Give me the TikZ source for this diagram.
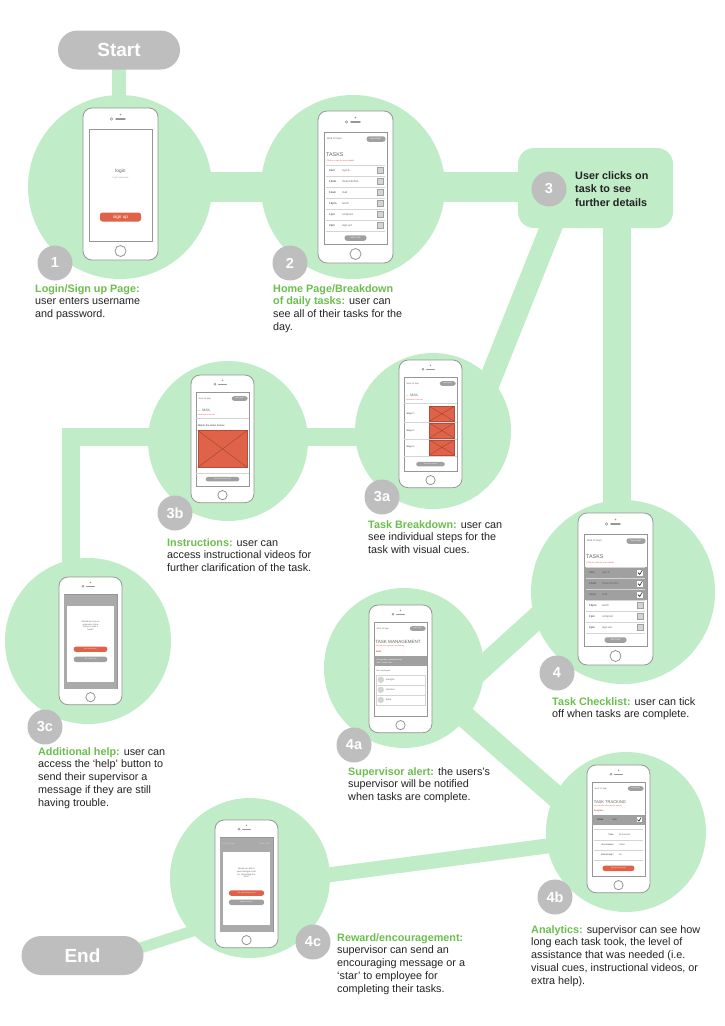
\documentclass[tikz,border=0pt]{standalone}
\usepackage{fontspec}
\setmainfont{Liberation Sans}
\usetikzlibrary{backgrounds}
\definecolor{mint}{RGB}{192,236,199}
\definecolor{badgegray}{RGB}{190,190,190}
\definecolor{keygreen}{RGB}{108,190,78}
\definecolor{ink}{RGB}{35,35,35}
\definecolor{shellgray}{RGB}{150,150,150}
\definecolor{uitext}{RGB}{100,100,100}
\definecolor{uidark}{RGB}{160,160,160}
\definecolor{uilight}{RGB}{212,212,212}
\definecolor{tomato}{RGB}{224,98,72}
\definecolor{alertred}{RGB}{222,80,60}
\newcommand{\keyterm}[1]{\textcolor{keygreen}{\bfseries #1}}

% phone outline, drawn in the frame of a 75 x 152 handset
\newcommand{\handset}{%
  \draw[shellgray,line width=0.8pt,fill=white,rounded corners=9pt] (0,0) rectangle (75,152);
  \draw[shellgray,line width=0.6pt] (6,21) rectangle (69,133);
  \draw[shellgray,line width=0.8pt] (37.5,143) circle[radius=5.5];
  \fill[shellgray] (37.5,6.5) circle[radius=0.9];
  \draw[shellgray,line width=1.4pt,line cap=round] (33,11) -- (42,11);
  \draw[shellgray,line width=0.5pt] (28.5,11) circle[radius=1.2];
}
% date line and help button at the top of a screen
\newcommand{\uiheader}[1]{%
  \node[anchor=west,inner sep=0pt,text=uitext,font=\fontsize{2.5}{2.5}\selectfont] (#1date) at (9,28) {Wed 12 Sept};
  \node[uipill,fill=uidark,minimum width=19pt,minimum height=5.5pt] (#1help) at (58,28) {Need Help?};
}
% daily task list; #2 = number of rows already ticked off
\newcommand{\taskscreen}[2]{%
  \uiheader{#1}
  \node[anchor=west,inner sep=0pt,text=uitext,font=\fontsize{5.4}{5.4}\selectfont] (#1title) at (8,44) {TASKS};
  \node[anchor=west,inner sep=0pt,text=alertred,font=\fontsize{2}{2}\selectfont] (#1note) at (8.5,49.5) {Click on a task for more details};
  \ifnum#2>0 \fill[uidark] (6,54) rectangle (69,{54+11*#2}); \fi
  \draw[uilight,line width=0.4pt] (8,54) -- (67,54);
  \foreach \tm/\tk [count=\i from 0] in {9am/sign in,10am/clean kitchen,11am/mail,12pm/lunch,1pm/compost,2pm/sign out}{
    \pgfmathsetmacro{\yy}{54+11*\i}
    \draw[uilight,line width=0.4pt] (8,\yy+11) -- (67,\yy+11);
    \node[anchor=west,inner sep=0pt,text=uitext,font=\fontsize{2.8}{2.8}\selectfont\bfseries] (#1t\i) at (11,\yy+5.5) {\tm};
    \node[anchor=west,inner sep=0pt,text=uitext,font=\fontsize{2.8}{2.8}\selectfont] (#1k\i) at (24,\yy+5.5) {\tk};
    \ifnum\i<#2
      \fill[white] (59,\yy+2.5) rectangle (65,\yy+8.5);
      \draw[ink,line width=0.6pt] (60,\yy+5.6) -- (61.8,\yy+7.4) -- (64.4,\yy+3);
    \else
      \draw[uidark,fill=uilight,line width=0.3pt] (59,\yy+2.5) rectangle (65,\yy+8.5);
    \fi
  }
  \node[uipill,fill=uidark,minimum width=22pt,minimum height=5.5pt] (#1add) at (37.5,127) {ADD TASK};
}

\begin{document}
\begin{tikzpicture}[x=1pt,y=-1pt,
  band/.style={draw=mint,line cap=butt,line join=miter},
  hub/.style={circle,fill=mint,inner sep=0pt,minimum size=#1},
  badge/.style={circle,fill=badgegray,inner sep=0pt,minimum size=35pt,text=white,font=\fontsize{14.5}{14.5}\selectfont\bfseries},
  terminal/.style={rectangle,rounded corners=19.5pt,fill=badgegray,text=white,minimum width=122pt,minimum height=39pt,inner sep=0pt,font=\fontsize{19}{19}\selectfont\bfseries},
  blurb/.style={anchor=north west,inner sep=0pt,align=left,text=ink,font=\fontsize{10.8}{12.8}\selectfont},
  uipill/.style={rectangle,rounded corners=2.5pt,inner sep=0pt,text=white,font=\fontsize{2}{2}\selectfont},
  smallphone/.style={scale=0.84,transform shape}]

\useasboundingbox (0,0) rectangle (724,1026);

% stage circles
\node[hub=184pt] (c1) at (120,187) {};
\node[hub=184pt] (c2) at (353,187) {};
\node[hub=156pt] (c3a) at (433,431) {};
\node[hub=160pt] (c3b) at (228,441) {};
\node[hub=166pt] (c3c) at (88,641) {};
\node[hub=184pt] (c4) at (623,592) {};
\node[hub=160pt] (c4a) at (404,668) {};
\node[hub=160pt] (c4b) at (626,832) {};
\node[hub=160pt] (c4c) at (250,878) {};
\node[fill=mint,rounded corners=16pt,minimum width=155pt,minimum height=80pt,inner sep=0pt] (box3) at (595.5,188) {};

% terminals
\node[terminal] (start) at (119,50) {Start};
\node[terminal] (finish) at (82.5,955.5) {End};

% band end points that are not stage centres
\coordinate (d1) at (562,200);
\coordinate (d2) at (470,430);
\coordinate (v1) at (617,200);
\coordinate (elbow) at (71,437);
\coordinate (e1) at (560,597);
\coordinate (e2) at (440,706);
\coordinate (f1) at (440,695);
\coordinate (f2) at (600,835);
\coordinate (g1) at (600,839);
\coordinate (g2) at (290,880);
\coordinate (h1) at (125,953);
\coordinate (h2) at (205,927);

% connecting bands, behind everything else
\begin{pgfonlayer}{background}
\fill[white] (0,0) rectangle (724,1026);
\draw[band,line width=14pt] (start.center) -- (start.center |- c1.center);
\draw[band,line width=30pt] (c1.center) -- (c2.center) -- (c2.center -| box3.center);
\draw[band,line width=22pt] (d1) -- (d2);
\draw[band,line width=28pt] (v1) -- (v1 |- c4.center);
\draw[band,line width=18pt] (elbow -| c3a.center) -- (elbow) -- (elbow |- c3c.center);
\draw[band,line width=22pt] (e1) -- (e2);
\draw[band,line width=22pt] (f1) -- (f2);
\draw[band,line width=15pt] (g1) -- (g2);
\draw[band,line width=11pt] (h1) -- (h2);
\end{pgfonlayer}

% 1: login screen
\begin{scope}[shift={(83,108)}]
  \handset
  \node[inner sep=0pt,text=uitext,font=\fontsize{4.8}{4.8}\selectfont] (p1login) at (37.5,63) {login};
  \node[inner sep=0pt,text=uidark,font=\fontsize{2.2}{2.2}\selectfont] (p1forgot) at (37.5,70) {forgot password};
  \node[uipill,fill=tomato,minimum width=41pt,minimum height=9pt,font=\fontsize{4.6}{4.6}\selectfont] (p1sign) at (37.5,109) {sign up};
\end{scope}

% 2: daily tasks
\begin{scope}[shift={(318,111)}]
  \handset
  \taskscreen{p2}{0}
\end{scope}

% 4: task checklist
\begin{scope}[shift={(578,513)}]
  \handset
  \taskscreen{p4}{3}
\end{scope}

% 3a: task breakdown
\begin{scope}[shift={(399,360)},smallphone]
  \handset
  \uiheader{q3a}
  \node[anchor=west,inner sep=0pt,text=uitext,font=\fontsize{4.2}{4.2}\selectfont] (q3amail) at (8,42) {← MAIL};
  \node[anchor=west,inner sep=0pt,text=alertred,font=\fontsize{2}{2}\selectfont] (q3asub) at (8.5,47) {Breakdown of the task};
  \draw[uilight,line width=0.4pt] (6,52) -- (69,52);
  \foreach \s [count=\i from 0] in {1,2,3}{
    \pgfmathsetmacro{\yy}{54+20*\i}
    \node[anchor=west,inner sep=0pt,text=uitext,font=\fontsize{2.8}{2.8}\selectfont\bfseries] (q3as\s) at (9,\yy+10) {Step \s:};
    \draw[tomato!80!black,line width=0.3pt,fill=tomato] (36,\yy+1) rectangle (66,\yy+19);
    \draw[tomato!65!black,line width=0.3pt] (36,\yy+1) -- (66,\yy+19) (36,\yy+19) -- (66,\yy+1);
    \draw[uilight,line width=0.4pt] (6,\yy+20) -- (69,\yy+20);
  }
  \node[uipill,fill=uidark,minimum width=34pt,minimum height=5.5pt] (q3ago) at (37.5,124) {See how it's done};
\end{scope}

% 3b: instructional video
\begin{scope}[shift={(191,375)},smallphone]
  \handset
  \uiheader{q3b}
  \node[anchor=west,inner sep=0pt,text=uitext,font=\fontsize{4.2}{4.2}\selectfont] (q3bmail) at (8,42) {← MAIL};
  \node[anchor=west,inner sep=0pt,text=alertred,font=\fontsize{2}{2}\selectfont] (q3bsub) at (8.5,47) {Breakdown of the task};
  \draw[uilight,line width=0.4pt] (6,52) -- (69,52);
  \node[anchor=west,inner sep=0pt,text=uitext,font=\fontsize{2.9}{2.9}\selectfont\bfseries] (q3bwatch) at (8,60) {Watch the video below:};
  \draw[tomato!80!black,line width=0.3pt,fill=tomato] (8,66) rectangle (67,110);
  \draw[tomato!65!black,line width=0.3pt] (8,66) -- (67,110) (8,110) -- (67,66);
  \draw[uilight,line width=0.4pt] (6,117) -- (69,117);
  \node[uipill,fill=uidark,minimum width=40pt,minimum height=5.5pt] (q3bmore) at (37.5,124) {Need some more help};
\end{scope}

% 3c: help prompt
\begin{scope}[shift={(59,577)},smallphone]
  \handset
  \fill[uidark!90] (6,21) rectangle (69,133);
  \fill[white] (9,34) rectangle (66,125);
  \node[align=center,inner sep=0pt,text=uitext,font=\fontsize{2.6}{3.2}\selectfont] (q3cask) at (37.5,58) {Should we let your\\supervisor know\\that you need a\\hand?};
  \node[uipill,fill=tomato,minimum width=40pt,minimum height=6.5pt] (q3cno) at (37.5,86) {No, I can do this};
  \node[uipill,fill=uidark,minimum width=40pt,minimum height=6.5pt] (q3cyes) at (37.5,98) {Yes, I need help};
\end{scope}

% 4a: supervisor alert
\begin{scope}[shift={(369,605)},smallphone]
  \handset
  \uiheader{q4a}
  \node[anchor=west,inner sep=0pt,text=uitext,font=\fontsize{5.4}{5.4}\selectfont] (q4atitle) at (7.5,44) {TASK MANAGEMENT};
  \node[anchor=west,inner sep=0pt,text=alertred,font=\fontsize{2}{2}\selectfont] (q4asub) at (8,49) {See how your employees are tracking};
  \node[anchor=west,inner sep=0pt,text=alertred,font=\fontsize{2.8}{2.8}\selectfont\bfseries] (q4anew) at (8,56) {New!};
  \fill[uidark] (6,61) rectangle (69,73);
  \node[anchor=west,align=left,inner sep=0pt,text=white,font=\fontsize{2.3}{2.9}\selectfont] (q4amsg) at (9,67) {Georgia has completed a new\\task - check it out.};
  \node[anchor=west,inner sep=0pt,text=uitext,font=\fontsize{2.4}{2.4}\selectfont] (q4aemp) at (8,79) {Your employees};
  \draw[uilight,line width=0.4pt] (8,83) rectangle (67,119);
  \foreach \nm [count=\i from 0] in {Georgia,Harrison,Mark}{
    \pgfmathsetmacro{\yy}{83+12*\i}
    \draw[uilight,line width=0.4pt] (8,\yy) -- (67,\yy);
    \fill[uilight] (14,\yy+6) circle[radius=3.8];
    \node[anchor=west,inner sep=0pt,text=uitext,font=\fontsize{2.8}{2.8}\selectfont] (q4an\i) at (20,\yy+6) {\nm};
  }
\end{scope}

% 4b: analytics
\begin{scope}[shift={(587,765)},smallphone]
  \handset
  \uiheader{q4b}
  \node[anchor=west,inner sep=0pt,text=uitext,font=\fontsize{4.8}{4.8}\selectfont] (q4btitle) at (8,44) {TASK TRACKING};
  \node[anchor=west,inner sep=0pt,text=alertred,font=\fontsize{2}{2}\selectfont] (q4bsub) at (8,49) {See how your employees are tracking};
  \node[anchor=west,inner sep=0pt,text=alertred,font=\fontsize{2.6}{2.6}\selectfont\bfseries] (q4bana) at (8,55) {Analytics};
  \fill[uidark] (6,59) rectangle (69,71);
  \node[anchor=west,inner sep=0pt,text=uitext!60!black,font=\fontsize{2.8}{2.8}\selectfont\bfseries] (q4bhour) at (12,65) {11am};
  \node[anchor=west,inner sep=0pt,text=uitext!60!black,font=\fontsize{2.8}{2.8}\selectfont] (q4btask) at (30,65) {mail};
  \fill[white] (59,62) rectangle (65,68);
  \draw[ink,line width=0.6pt] (60,65.1) -- (61.8,66.9) -- (64.4,62.5);
  \foreach \lb/\vl [count=\i from 0] in {Time/45 minutes,Assistance/Video,Extra help?/No}{
    \pgfmathsetmacro{\yy}{77+12*\i}
    \draw[uilight,line width=0.4pt] (8,\yy) -- (67,\yy);
    \node[anchor=east,inner sep=0pt,text=uitext,font=\fontsize{2.7}{2.7}\selectfont\bfseries] (q4bl\i) at (32,\yy+6) {\lb};
    \node[anchor=west,inner sep=0pt,text=uitext,font=\fontsize{2.7}{2.7}\selectfont] (q4bv\i) at (38,\yy+6) {\vl};
  }
  \draw[uilight,line width=0.4pt] (8,113) -- (67,113);
  \node[uipill,fill=tomato,minimum width=38pt,minimum height=6.5pt] (q4bsign) at (37.5,123) {Sign off on this task};
\end{scope}

% 4c: reward prompt
\begin{scope}[shift={(215,820)},smallphone]
  \handset
  \fill[uidark!90] (6,21) rectangle (69,133);
  \node[anchor=west,inner sep=0pt,text=uilight,font=\fontsize{2.5}{2.5}\selectfont] (q4cdate) at (9,28) {Wed 12 Sept};
  \node[anchor=east,inner sep=0pt,text=uilight,font=\fontsize{2.5}{2.5}\selectfont] (q4chelp) at (66,28) {Need Help?};
  \fill[white] (9,38) rectangle (66,125);
  \node[align=center,inner sep=0pt,text=uitext,font=\fontsize{2.6}{3.2}\selectfont] (q4cask) at (37.5,63) {Would you like to\\send Georgia a star\\for completing this\\task?};
  \node[uipill,fill=tomato,minimum width=42pt,minimum height=6.5pt] (q4cyes) at (37.5,87) {Yes, she did a great job!};
  \node[uipill,fill=uidark,minimum width=42pt,minimum height=6.5pt] (q4cno) at (37.5,98) {Maybe next time};
\end{scope}

% step badges
\node[badge] (n1) at (55,263) {1};
\node[badge] (n2) at (290,263) {2};
\node[badge] (n3) at (549,189) {3};
\node[badge] (n3a) at (382,497) {3a};
\node[badge] (n3b) at (175,513) {3b};
\node[badge] (n3c) at (45,727) {3c};
\node[badge] (n4) at (557,673) {4};
\node[badge] (n4a) at (354,745) {4a};
\node[badge] (n4b) at (555,897) {4b};
\node[badge] (n4c) at (313,942) {4c};

% descriptions
\node[blurb,font=\fontsize{10.8}{13.5}\selectfont\bfseries] (t3) at (575,171) {User clicks on\\task to see\\further details};
\node[blurb] (t1) at (35,284) {\keyterm{Login/Sign up Page:}\\user enters username\\and password.};
\node[blurb] (t2) at (273,284) {\keyterm{Home Page/Breakdown}\\\keyterm{of daily tasks:} user can\\see all of their tasks for the\\day.};
\node[blurb] (t3a) at (368,520) {\keyterm{Task Breakdown:} user can\\see individual steps for the\\task with visual cues.};
\node[blurb] (t3b) at (167,538) {\keyterm{Instructions:} user can\\access instructional videos for\\further clarification of the task.};
\node[blurb] (t3c) at (38,747) {\keyterm{Additional help:} user can\\access the ‘help’ button to\\send their supervisor a\\message if they are still\\having trouble.};
\node[blurb] (t4) at (552,697) {\keyterm{Task Checklist:} user can tick\\off when tasks are complete.};
\node[blurb] (t4a) at (348,767) {\keyterm{Supervisor alert:} the users's\\supervisor will be notified\\when tasks are complete.};
\node[blurb] (t4b) at (531,925) {\keyterm{Analytics:} supervisor can see how\\long each task took, the level of\\assistance that was needed (i.e.\\visual cues, instructional videos, or\\extra help).};
\node[blurb] (t4c) at (337,933) {\keyterm{Reward/encouragement:}\\supervisor can send an\\encouraging message or a\\‘star’ to employee for\\completing their tasks.};
\end{tikzpicture}
\end{document}
